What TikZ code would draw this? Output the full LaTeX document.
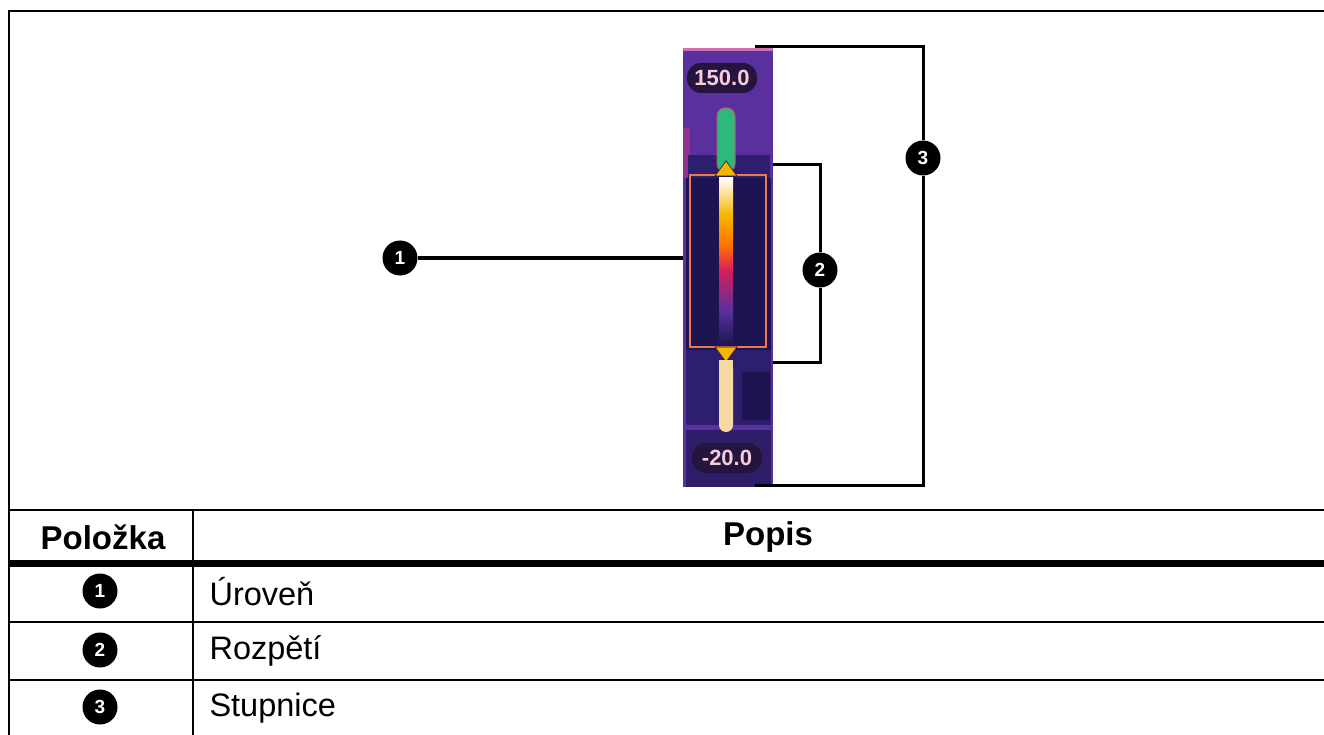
\documentclass[tikz,border=0pt]{standalone}
\usepackage{fontspec}
\setmainfont{Liberation Sans}
\usetikzlibrary{calc}
\definecolor{tpurple}{HTML}{5A309E}
\definecolor{tdark}{HTML}{1D1552}
\definecolor{tmid}{HTML}{2E1F6E}
\definecolor{tmag}{HTML}{B8308E}
\definecolor{tgreen}{HTML}{2EB87A}
\definecolor{tyellow}{HTML}{F7B500}
\definecolor{tbox}{HTML}{F07850}
\definecolor{tcream}{HTML}{F5D9A0}
\definecolor{tpill}{HTML}{24143E}
\definecolor{tpilltext}{HTML}{F8CCD6}
\definecolor{tred}{HTML}{D81E5B}
\tikzset{
  callout/.style={circle,fill=black,text=white,inner sep=0pt,minimum size=35pt,font=\fontsize{19}{19}\selectfont\bfseries},
  tcallout/.style={circle,fill=black,text=white,inner sep=0pt,minimum size=35pt,font=\fontsize{19}{19}\selectfont\bfseries},
  leader/.style={draw=black,line width=3pt},
  grid/.style={draw=black,line width=2.6pt},
  thick grid/.style={draw=black,line width=7pt},
  pill/.style={rounded corners=14pt,fill=tpill,text=tpilltext,inner sep=0pt,minimum width=70pt,minimum height=30pt,font=\fontsize{22}{22}\selectfont\bfseries},
  cell/.style={font=\fontsize{32.5}{38}\selectfont},
  head/.style={font=\fontsize{33}{38}\selectfont\bfseries},
}
\begin{document}
\begin{tikzpicture}[x=1pt,y=-1pt]
\useasboundingbox (0,0) rectangle (1324,735);
\fill[white] (0,0) rectangle (1324,735);
% ---- thermal image ----
\node[inner sep=0pt,minimum width=90pt,minimum height=439pt,fill=tpurple,anchor=north west] (img) at (683,48) {};
\fill[tmag!70!white] (683,48) rectangle (773,51);
\fill[tmag!60!tpurple] (683,128) rectangle (690,178);
\fill[tmid] (688,155) rectangle (770,178);
\fill[tdark] (686,178) rectangle (771,350);
\fill[tmid] (686,350) rectangle (771,425);
\fill[tdark] (742,372) rectangle (770,420);
\fill[tdark!70!tpurple] (686,430) rectangle (771,487);
% top pill
\node[pill] (hi) at (722,78) {150.0};
% green bar
\fill[tgreen,draw=tbox!60!tpurple,line width=1pt,rounded corners=8pt] (717,108) rectangle (735,172);
% orange box
\draw[tbox,line width=2.2pt] (690,175) rectangle (766,347);
% gradient bar
\shade[top color=white,bottom color=tyellow] (719,178) rectangle (733,215);
\shade[top color=tyellow,bottom color=orange!90!red] (719,215) rectangle (733,245);
\shade[top color=orange!90!red,bottom color=tred] (719,245) rectangle (733,270);
\shade[top color=tred,bottom color=tpurple] (719,270) rectangle (733,310);
\shade[top color=tpurple,bottom color=tdark] (719,310) rectangle (733,345);
% triangles
\fill[tyellow,draw=tpill,line width=0.6pt] (726,161) -- (737,176) -- (715,176) -- cycle;
\fill[tyellow,draw=tpill,line width=0.6pt] (715,347) -- (737,347) -- (726,362) -- cycle;
% cream bar
\fill[tcream,rounded corners=7pt] (719,360) rectangle (733,432);
\fill[tcream] (719,360) rectangle (733,370);
% bottom pill
\node[pill] (lo) at (727,458) {-20.0};
% ---- callouts ----
\node[callout] (c1) at (400,258) {1};
\node[callout] (c2) at (820,270) {2};
\node[callout] (c3) at (923,158) {3};
\coordinate (l1) at (img.west |- c1);
\coordinate (b2t) at (773,165);
\coordinate (b2b) at (773,362);
\coordinate (b3t) at (755,47);
\coordinate (b3b) at (755,485);
\draw[leader] (c1) -- (l1);
\draw[leader] (c2) -- (c2 |- b2t) -- (b2t);
\draw[leader] (c2) -- (c2 |- b2b) -- (b2b);
\draw[leader] (c3) -- (c3 |- b3t) -- (b3t);
\draw[leader] (c3) -- (c3 |- b3b) -- (b3b);
% ---- table ----
\draw[grid] (1330,11) -- (9,11) -- (9,740);
\draw[grid] (9,510) -- (1330,510);
\draw[thick grid] (9,563) -- (1330,563);
\draw[grid] (9,622) -- (1330,622);
\draw[grid] (9,680) -- (1330,680);
\draw[grid] (193,510) -- (193,740);
\node[head] (h1) at (103,537) {Položka};
\node[head] (h2) at (768,537) {Popis};
\node[tcallout] (t1) at (100,591) {1};
\node[tcallout] (t2) at (100,650) {2};
\node[tcallout] (t3) at (100,707) {3};
\node[cell,anchor=west] (d1) at (206,592) {Úroveň};
\node[cell,anchor=west] (d2) at (206,651) {Rozpětí};
\node[cell,anchor=west] (d3) at (206,708) {Stupnice};
\end{tikzpicture}
\end{document}
